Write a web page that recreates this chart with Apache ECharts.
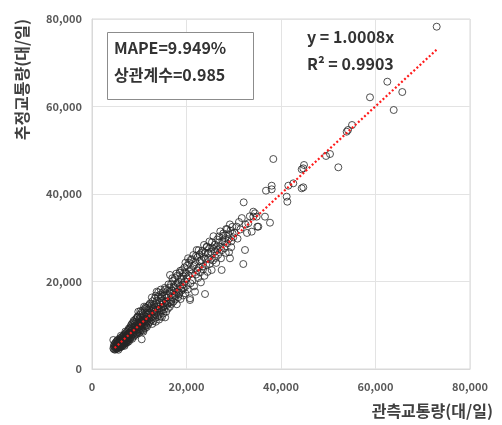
<!DOCTYPE html>
<html><head><meta charset="utf-8">
<script src="https://cdn.jsdelivr.net/npm/echarts@6/dist/echarts.min.js"></script>
<style>html,body{margin:0;padding:0;background:#fff}#c{width:502px;height:425px}</style>
</head><body><div id="c"></div>
<script>
// observed (x) vs estimated (y) traffic volume, veh/day
const pointsLow = [
[4520,4710],[4610,5230],[4680,4480],[4750,5600],[4800,4950],[4850,5820],[4900,4420],[4950,5310],[5010,4780],[5050,6100],
[5100,5020],[5130,4560],[5180,5480],[5220,6350],[5260,4890],[5300,5750],[5340,5150],[5380,4700],[5420,6020],[5460,5400],
[5500,6580],[5540,4980],[5580,5870],[5620,5230],[5660,6400],[5700,4850],[5740,5640],[5780,6150],[5820,5380],[5860,7000],
[5900,5060],[5940,6280],[5980,5710],[6020,4960],[6060,6680],[6100,5890],[6140,5320],[6180,7150],[6220,6040],[6260,5560],
[6300,6830],[6340,5180],[6380,6410],[6420,7420],[6460,5820],[6500,6250],[6540,5400],[6580,7080],[6620,6560],[6660,5960],
[6700,7640],[6740,6200],[6780,5560],[6820,6920],[6860,7900],[6900,6440],[6940,5830],[6980,7260],[7020,6680],[7060,6000],
[7100,8150],[7140,7050],[7180,6360],[7220,7580],[7260,5960],[7300,6880],[7340,8420],[7380,7250],[7420,6500],[7460,7830],
[7500,6900],[7540,6120],[7580,8010],[7620,7440],[7660,8860],[7700,6680],[7740,7720],[7780,8250],[7820,6340],[7860,7560],
[7900,9100],[7940,7050],[7980,8340],[4510,6630],[5600,4400],[6050,5100],[6900,5300]
];
const pointsMid = [
[8020,7600],[8060,9350],[8100,6850],[8150,8300],[8200,9800],[8250,7250],[8300,8700],[8350,10200],[8400,7700],[8450,9100],
[8500,6900],[8550,8450],[8600,10500],[8650,7900],[8700,9400],[8750,8150],[8800,11000],[8850,7400],[8900,9700],[8950,8600],
[9000,10350],[9050,7750],[9100,9150],[9150,11300],[9200,8400],[9250,9900],[9300,7900],[9350,10800],[9400,8950],[9450,11650],
[9500,9450],[9550,8100],[9600,10400],[9650,12000],[9700,9050],[9750,8500],[9800,13100],[9850,10100],[9900,8750],[9950,11200],
[10000,9600],[10050,12350],[10100,8350],[10150,10700],[10200,9900],[10250,11800],[10300,8900],[10350,10300],[10400,12800],[10450,9400],
[10500,11100],[10520,6790],[10550,8950],[10600,10600],[10650,13300],[10700,9800],[10750,11600],[10800,8800],[10870,8530],[10900,10900],
[10950,12300],[11000,9700],[11050,11000],[11100,13700],[11150,10300],[11200,9300],[11250,12000],[11300,10800],[11350,14100],[11400,9900],
[11450,11400],[11500,12900],[11550,10500],[11600,9600],[11650,11900],[11700,13500],[11750,10900],[11800,12400],[11850,10100],[11900,14400],
[11950,11300],
[12000,12700],[12080,10600],[12150,13900],[12230,11800],[12300,15000],[12380,10900],[12450,12400],[12530,14500],[12600,11300],[12680,13200],
[12750,10300],[12830,15500],[12900,12100],[12980,13800],[13050,11000],[13130,14700],[13200,12600],[13280,16100],[13350,11700],[13430,13500],
[13500,10800],[13580,14900],[13650,12900],[13690,17670],[13750,15600],[13830,11900],[13900,13700],[13980,16500],[14050,12400],[14130,14300],
[14200,11300],[14280,15300],[14350,13100],[14430,17000],[14500,12000],[14580,14800],[14650,16200],[14730,13400],[14800,11900],[14880,15700],
[14950,14000],[15030,17500],[15100,12700],[15180,15100],[15250,13600],[15330,16800],[15400,14400],[15480,11800],[15550,18200],[15630,15400],
[15700,13100],[15780,16300],[15850,14600],[15930,17800]
];
const pointsHigh = [
[16050,13800],[16150,16900],[16250,15100],[16350,18600],[16450,14200],[16510,21490],[16550,17300],[16650,15800],[16750,19400],[16850,14900],
[16950,17900],[17050,16300],[17150,20100],[17250,15400],[17350,18500],[17450,17000],[17550,20800],[17650,15900],[17750,19200],[17850,17600],
[17950,14800],[18050,21300],[18150,18200],[18250,16400],[18350,19900],[18450,17400],[18550,22000],[18650,18900],[18750,16000],[18850,20600],
[18950,17900],[19050,22600],[19150,19300],[19250,16800],[19350,21200],[19450,18500],[19550,23200],[19650,20000],[19750,17300],[19850,21900],
[19950,19000],
[20100,23600],[20250,18200],[20400,21400],[20550,24300],[20740,16160],[20740,15770],[20850,19600],[21000,22800],[21150,25100],[21300,20300],
[21450,23500],[21600,18900],[21800,17670],[21900,24400],[22050,21600],[22150,27200],[22300,25500],[22450,20800],[22600,23200],[22750,26200],
[22900,22100],[23050,19800],[23200,24900],[23350,27000],[23500,22800],[23650,25600],[23800,21300],[23920,17140],[24000,26600],[24150,23800],
[24300,28000],[24450,22200],[24600,25300],[24750,27500],[24900,24000],
[25100,26800],[25330,22630],[25400,29000],[25600,24800],[25800,27400],[26030,26800],[26200,25400],[26390,27960],[26500,29600],[26700,26100],
[26900,30300],[27100,27900],[27300,25300],[27440,22630],[27600,29300],[27800,31000],[28000,27600],[28200,29900],[28400,32000],[28600,28700],
[28800,30800],[29000,26700],[29200,25300],[29300,31600],[29500,29200],[29700,32500],[29900,30100]
];
const pointsExtra = [
[5170,5710],[5390,6610],[5630,5030],[5870,6480],[6110,7600],[6370,5690],[6610,7340],[6830,6140],[7070,8560],[7310,7890],
[7570,6560],[7810,9280],[8110,8020],[8370,9560],[8630,8840],[8910,10740],[9170,9630],[9430,8230],[9690,11820],[9970,10480],
[10230,13240],[10490,10020],[10730,12660],[11020,14250],[11280,11350],[11560,13950],[11830,11720],[12110,14710],[12390,12950],[12670,16350],
[12940,14120],[13220,13020],[13470,16750],[13760,14360],[14020,17550],[14290,13750],[14560,18150],[14840,16580],[15110,14230],[15390,18550],
[15660,16900],[15920,14950],[16190,19350],[16470,17650],[16730,15320],[17010,20750],[17290,18850],[17560,16650],[17840,21800],[18120,19650],
[18390,17050],[18670,22450],[18940,20350],[19230,18450],[19510,22050],[19780,24300],[20060,20700],[20330,25300],[20610,22450],[20890,24950],
[21170,21850],[21440,26050],[21720,23750],[22010,25850],[22290,22550],[22570,27150],[22860,24650],[23140,26550],[23430,23450],[23710,28350],
[23990,25150],[24280,27850],[24560,26350],[24850,29150],[25140,25050],[25420,27750],[25710,30350],[26000,28450],[26280,24250],[26570,27250],
[26860,28950],[27150,31450],[27440,27150],[27730,30450],[28020,29150],[28310,26550],[28600,31950],[28890,29650],[29180,33050],[29470,27850],
[29760,30950]
];
const pointsOut = [
[30200,31200],[30620,32530],[30800,29800],[31100,33600],[31400,31900],[31700,34500],[32020,24000],[32100,38100],[32380,27200],[32500,33000],
[32800,31100],[33080,33300],[33400,34900],[33800,31390],[34140,35960],[34140,34820],[34500,35590],[34850,34820],[34990,32530],[35200,32530],
[36610,34820],[36820,40760],[37670,33440],[38030,41900],[38030,41070],[38370,48000],
[41200,39390],[41340,38240],[41550,41900],[42600,42440],[44380,41300],[44720,41530],[44380,45640],[44720,45870],[44870,46630],
[49530,48690],[50370,49140],[52130,46100],[53900,54240],[54180,54630],[55030,55770],[58830,62100],[62500,65670],[63850,59200],
[65670,63310],[72950,78240]
];
const trendSlope = 1.0008;
const trendRangeX = [4800, 72900];
const xTicks = [0, 20000, 40000, 60000, 80000];
const statsBox = ['MAPE=9.949%', '상관계수=0.985'];
const eqText = ['y = 1.0008x', 'R² = 0.9903'];
const xTitle = '관측교통량(대/일)';
const yTitle = '추정교통량(대/일)';

const FONT = "'Noto Sans CJK KR', 'Noto Sans', sans-serif";
const allPoints = pointsLow.concat(pointsMid, pointsExtra, pointsHigh, pointsOut);
const trend = trendRangeX.map(x => [x, x * trendSlope]);
const fmt = v => v.toLocaleString('en-US');

const chart = echarts.init(document.getElementById('c'), null, {renderer: 'canvas'});
chart.setOption({
  animation: false,
  backgroundColor: '#fff',
  grid: {left: 92, right: 32, top: 19, bottom: 56, show: true, borderColor: '#d9d9d9', borderWidth: 1},
  xAxis: {
    type: 'value', min: xTicks[0], max: xTicks[xTicks.length - 1], interval: 20000,
    axisLine: {show: true, lineStyle: {color: '#d9d9d9'}},
    axisTick: {show: false},
    splitLine: {lineStyle: {color: '#e3e3e3'}},
    axisLabel: {color: '#595959', fontSize: 11, fontWeight: 'bold', fontFamily: FONT, margin: 12, formatter: fmt},
    name: xTitle, nameLocation: 'end', nameGap: 0,
    nameTextStyle: {color: '#404040', fontSize: 16, fontWeight: 'bold', fontFamily: FONT, align: 'right', verticalAlign: 'top', padding: [34, -23, 0, 0]}
  },
  yAxis: {
    type: 'value', min: 0, max: 80000, interval: 20000,
    axisLine: {show: true, lineStyle: {color: '#d9d9d9'}},
    axisTick: {show: false},
    splitLine: {lineStyle: {color: '#e3e3e3'}},
    axisLabel: {color: '#595959', fontSize: 11, fontWeight: 'bold', fontFamily: FONT, margin: 10, formatter: fmt},
    name: yTitle, nameLocation: 'end', nameRotate: 90, nameGap: 0,
    nameTextStyle: {color: '#404040', fontSize: 16, fontWeight: 'bold', fontFamily: FONT, align: 'right', verticalAlign: 'bottom', padding: [0, 0, 62, 0]}
  },
  series: [
    {
      type: 'scatter', data: allPoints, symbol: 'circle', symbolSize: 7, z: 2,
      itemStyle: {color: 'rgba(0,0,0,0)', borderColor: '#262626', borderWidth: 1, opacity: 0.8}
    },
    {
      type: 'line', data: trend, symbol: 'none', z: 3,
      lineStyle: {color: '#ff1a1a', width: 2.2, type: [2, 2.2]}
    }
  ],
  graphic: [
    {type: 'rect', left: 107, top: 32, shape: {width: 146, height: 67}, style: {fill: '#fff', stroke: '#8c8c8c', lineWidth: 1}, z: 10},
    {type: 'text', left: 114, top: 40, style: {text: statsBox[0], fill: '#333', font: "bold 16px " + FONT}, z: 11},
    {type: 'text', left: 114, top: 67, style: {text: statsBox[1], fill: '#333', font: "bold 16px " + FONT}, z: 11},
    {type: 'text', left: 307, top: 29, style: {text: eqText[0], fill: '#333', font: "bold 16px " + FONT}, z: 11},
    {type: 'text', left: 307, top: 56, style: {text: eqText[1], fill: '#333', font: "bold 16px " + FONT}, z: 11}
  ]
});
</script></body></html>
